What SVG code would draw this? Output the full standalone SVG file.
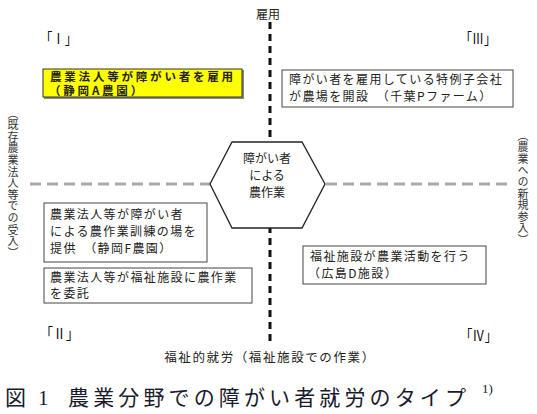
<svg xmlns="http://www.w3.org/2000/svg" width="537" height="414" viewBox="0 0 537 414">
<style>
.t{font-family:"Noto Sans CJK JP","Noto Sans CJK SC",sans-serif;fill:#222;}
.b{font-size:12px;letter-spacing:1.4px;}
.box{fill:#fff;stroke:#444;stroke-width:1;}
.q{font-family:"Liberation Serif","Noto Sans CJK JP",serif;font-size:15px;fill:#111;}
.v{font-family:"Noto Sans CJK JP",sans-serif;font-size:11px;letter-spacing:0.6px;fill:#333;writing-mode:vertical-rl;}
</style>
<rect width="537" height="414" fill="#fff"/>
<g id="axes">
<line x1="270" y1="22" x2="270" y2="346" stroke="#111" stroke-width="3" stroke-dasharray="7 5"/>
<line x1="30" y1="184" x2="211" y2="184" stroke="#aaa" stroke-width="3" stroke-dasharray="11 6"/>
<line x1="326" y1="184" x2="512" y2="184" stroke="#aaa" stroke-width="3" stroke-dasharray="11 6"/>
</g>
<g id="axis-labels">
<text class="t" x="268" y="19" font-size="12" text-anchor="middle">雇用</text>
<text class="t" x="270" y="362" font-size="12.5" letter-spacing="1.6" text-anchor="middle">福祉的就労（福祉施設での作業）</text>
<text class="v" x="13" y="108">（既存農業法人等での受入）</text>
<text class="v" x="523" y="130">（農業への新規参入）</text>
</g>
<g id="quadrant-labels">
<text class="q" x="40" y="44" textLength="37" lengthAdjust="spacingAndGlyphs">「Ⅰ」</text>
<text class="q" x="460" y="44" textLength="36" lengthAdjust="spacingAndGlyphs">「Ⅲ」</text>
<text class="q" x="40" y="339" textLength="39" lengthAdjust="spacingAndGlyphs">「Ⅱ」</text>
<text class="q" x="460" y="341" textLength="37" lengthAdjust="spacingAndGlyphs">「Ⅳ」</text>
</g>
<g id="center">
<polygon points="210,184 232,142 302,142 325,184 302,228 232,228" fill="#fff" stroke="#222" stroke-width="1.3"/>
<text class="t" font-size="12" text-anchor="middle"><tspan x="267" y="163">障がい者</tspan><tspan x="267" y="180">による</tspan><tspan x="267" y="197">農作業</tspan></text>
</g>
<g id="node-I">
<rect x="44" y="70" width="200" height="29" fill="#888"/>
<rect x="43" y="69" width="199" height="28" fill="#ffff00" stroke="#333" stroke-width="1"/>
<text class="t" font-size="11.5" letter-spacing="2.8" font-weight="bold"><tspan x="50" y="81">農業法人等が障がい者を雇用</tspan><tspan x="49" y="95">（静岡A農園）</tspan></text>
</g>
<g id="node-III">
<rect class="box" x="282" y="70" width="231" height="37"/>
<text class="t b"><tspan x="289" y="84">障がい者を雇用している特例子会社</tspan><tspan x="289" y="101">が農場を開設　（千葉Pファーム）</tspan></text>
</g>
<g id="node-II-a">
<rect class="box" x="44" y="203" width="163" height="59"/>
<text class="t b"><tspan x="50" y="219">農業法人等が障がい者</tspan><tspan x="50" y="236">による農作業訓練の場を</tspan><tspan x="50" y="253">提供　（静岡F農園）</tspan></text>
</g>
<g id="node-II-b">
<rect class="box" x="44" y="268" width="208" height="35"/>
<text class="t b"><tspan x="50" y="282">農業法人等が福祉施設に農作業</tspan><tspan x="50" y="298">を委託</tspan></text>
</g>
<g id="node-IV">
<rect class="box" x="303" y="246" width="183" height="38"/>
<text class="t b"><tspan x="310" y="261">福祉施設が農業活動を行う</tspan><tspan x="308" y="278">（広島D施設）</tspan></text>
</g>
<g id="caption">
<text font-family="'Liberation Serif','Noto Sans CJK JP',serif" font-size="21" fill="#1a1a2e"><tspan x="5" y="405">図</tspan><tspan x="38" y="405">1</tspan><tspan x="68" y="405" textLength="398" lengthAdjust="spacing">農業分野での障がい者就労のタイプ</tspan></text>
<text font-family="'Liberation Serif',serif" font-size="13" fill="#1a1a2e" x="482" y="393">1)</text>
</g>
</svg>
